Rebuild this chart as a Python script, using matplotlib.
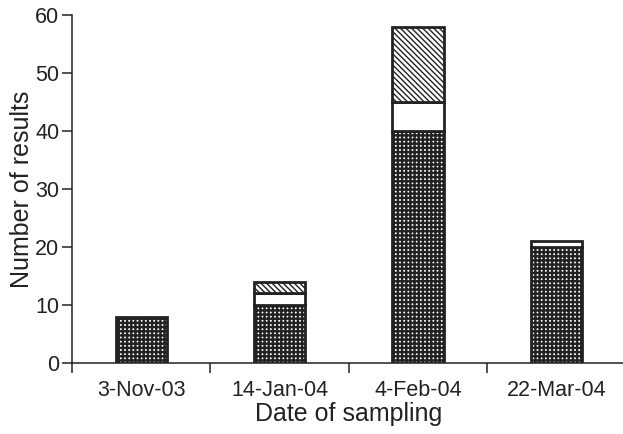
import matplotlib
matplotlib.use('Agg')
import matplotlib.pyplot as plt
import numpy as np

# Data
dates = ['3-Nov-03', '14-Jan-04', '4-Feb-04', '22-Mar-04']
checked = [8, 10, 40, 20]
white = [0, 2, 5, 1]
hatched = [0, 2, 13, 0]

plt.rcParams['font.family'] = ['Liberation Sans', 'DejaVu Sans']

ink = '#222222'

fig = plt.figure(figsize=(6.23, 4.34), dpi=100)
ax = fig.add_axes([72 / 623, 1 - 363 / 434, (625.6 - 72) / 623, (363 - 15) / 434])

x = np.arange(len(dates)) + 0.5
w = 0.37


def segment(heights, bottoms, hatch, hlw):
	# draw only non-empty pieces of the stack
	with plt.rc_context({'hatch.linewidth': hlw}):
		for xi, h, b in zip(x, heights, bottoms):
			if h > 0:
				ax.bar(xi, h, w, bottom=b, facecolor='white', edgecolor=ink,
					   linewidth=2.0, hatch=hatch, zorder=3)


base = np.zeros(len(dates))
segment(checked, base, '++++', 1.7)
base = base + np.array(checked)
segment(white, base, None, 1.0)
base = base + np.array(white)
segment(hatched, base, '\\\\\\\\\\\\', 1.0)

ax.set_xlim(0, 4)
ax.set_ylim(0, 60)
ax.set_yticks(range(0, 61, 10))

# boundary ticks without labels, labels at category centres
ax.set_xticks([0, 1, 2, 3, 4])
ax.set_xticklabels([])
ax.set_xticks(x, minor=True)
ax.set_xticklabels(dates, minor=True)
ax.tick_params(axis='x', which='minor', length=0, pad=12, labelsize=15.5, colors=ink)
ax.tick_params(axis='x', which='major', length=7, width=1.1, color=ink)
ax.tick_params(axis='y', length=7, width=1.1, color=ink, labelsize=15.5, labelcolor=ink, pad=2)

for s in ['top', 'right']:
	ax.spines[s].set_visible(False)
for s in ['left', 'bottom']:
	ax.spines[s].set_linewidth(1.1)
	ax.spines[s].set_color(ink)

ax.set_xlabel('Date of sampling', fontsize=18, color=ink, labelpad=1)
ax.set_ylabel('Number of results', fontsize=18, color=ink, labelpad=1)

fig.savefig('out.png', dpi=100)
